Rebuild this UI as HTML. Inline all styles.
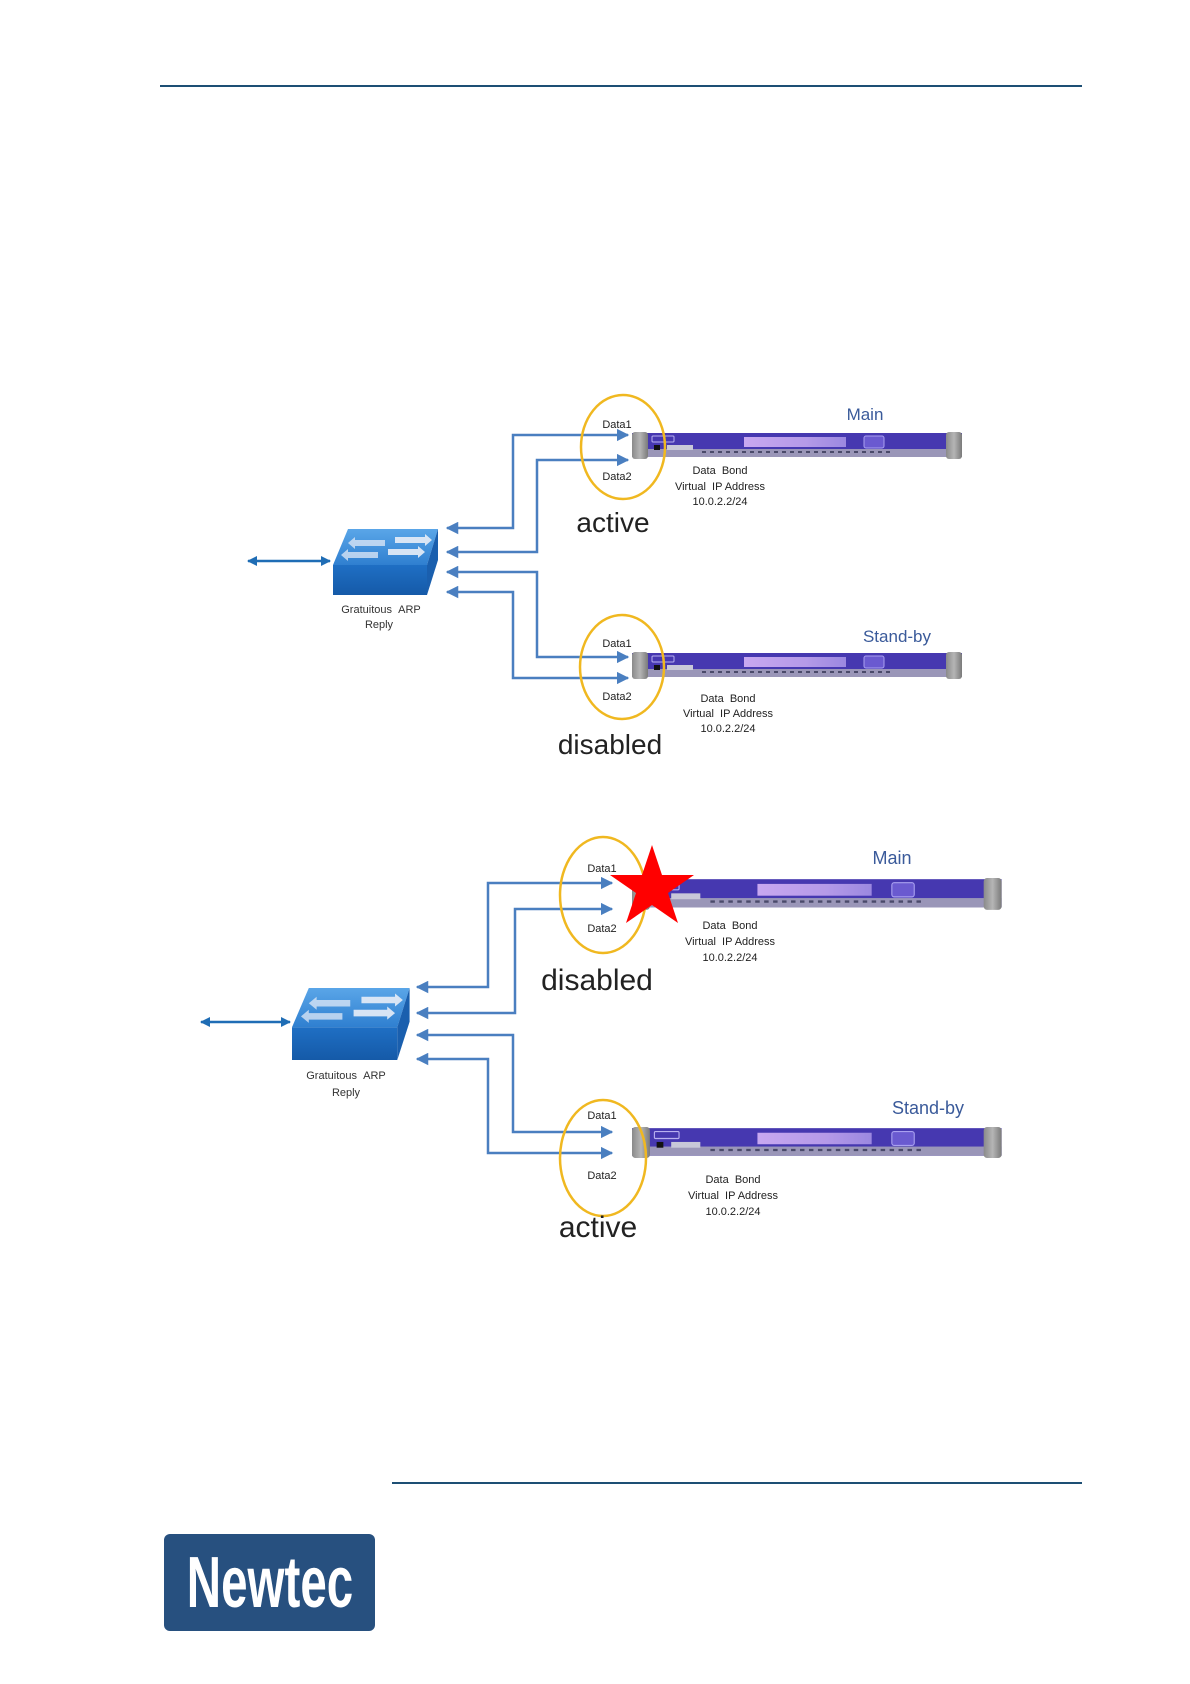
<!DOCTYPE html>
<html><head><meta charset="utf-8"><style>
html,body{margin:0;padding:0;background:#fff}
svg{display:block}
text{font-family:"Liberation Sans",sans-serif}
</style></head><body>
<svg width="1190" height="1684" viewBox="0 0 1190 1684" xmlns="http://www.w3.org/2000/svg">
<defs>
<marker id="ah" viewBox="0 0 10 10" refX="9" refY="5" markerWidth="5" markerHeight="5" orient="auto-start-reverse" markerUnits="strokeWidth">
<path d="M0,0 L10,5 L0,10 z" fill="#4a7fc0"/></marker>
<marker id="ah2" viewBox="0 0 10 10" refX="9" refY="5" markerWidth="4" markerHeight="4" orient="auto-start-reverse" markerUnits="strokeWidth">
<path d="M0,0 L10,5 L0,10 z" fill="#1f6db5"/></marker>
<linearGradient id="top" x1="0" y1="0" x2="0" y2="1"><stop offset="0" stop-color="#5aa6e8"/><stop offset="1" stop-color="#2f7fd0"/></linearGradient>
<linearGradient id="front" x1="0" y1="0" x2="0" y2="1"><stop offset="0" stop-color="#1f6fc4"/><stop offset="1" stop-color="#155aa8"/></linearGradient>
<linearGradient id="cap" x1="0" y1="0" x2="1" y2="0"><stop offset="0" stop-color="#8a8a8a"/><stop offset="0.5" stop-color="#b5b5b5"/><stop offset="1" stop-color="#7a7a7a"/></linearGradient>
<linearGradient id="disp" x1="0" y1="0" x2="1" y2="0"><stop offset="0" stop-color="#c8a8f0"/><stop offset="0.6" stop-color="#b59ae8"/><stop offset="1" stop-color="#9b88e0"/></linearGradient>
<g id="sw">
<path d="M348,529 L438,529 L427,565 L333,565 Z" fill="url(#top)"/>
<path d="M333,565 L427,565 L427,595 L333,595 Z" fill="url(#front)"/>
<path d="M438,529 L438,560 L427,595 L427,565 Z" fill="#1a5fae"/>
<g fill="#e8eef8" opacity="0.9">
<path d="M395,537 L425,537 L425,534 L432,540 L425,546 L425,543 L395,543Z"/>
<path d="M388,549 L418,549 L418,546 L425,552 L418,558 L418,555 L388,555Z"/>
<path d="M385,546 L355,546 L355,549 L348,543 L355,537 L355,540 L385,540Z" opacity="0.8"/>
<path d="M378,558 L348,558 L348,561 L341,555 L348,549 L348,552 L378,552Z" opacity="0.8"/>
</g>
</g>
<g id="dev">
<rect x="0" y="1" width="330" height="24" fill="#4638b0"/>
<rect x="0" y="17" width="330" height="8" fill="#9a96b8"/>
<g stroke="#4a4a6a" stroke-width="2" stroke-dasharray="4,4"><line x1="70" y1="20" x2="260" y2="20"/></g>
<rect x="0" y="0" width="16" height="27" rx="3" fill="url(#cap)"/>
<rect x="314" y="0" width="16" height="27" rx="3" fill="url(#cap)"/>
<rect x="20" y="4" width="22" height="6" rx="1" fill="none" stroke="#b8b0f0" stroke-width="1"/>
<rect x="22" y="13" width="6" height="5" fill="#111"/>
<rect x="35" y="13" width="26" height="5" fill="#c8c8d8"/>
<rect x="112" y="5" width="102" height="10" fill="url(#disp)"/>
<rect x="232" y="4" width="20" height="12" rx="2" fill="#6a5ad0" stroke="#a9a0f0"/>
</g>
</defs>

<line x1="160" y1="86" x2="1082" y2="86" stroke="#1d4f74" stroke-width="2"/>
<line x1="392" y1="1483" x2="1082" y2="1483" stroke="#1d4f74" stroke-width="2"/>

<!-- Diagram 1 -->
<g fill="none" stroke="#4a7fc0" stroke-width="2.5">
<path d="M447,528 L513,528 L513,435 L628,435" marker-end="url(#ah)" marker-start="url(#ah)"/>
<path d="M447,552 L537,552 L537,460 L628,460" marker-end="url(#ah)" marker-start="url(#ah)"/>
<path d="M447,572 L537,572 L537,657 L628,657" marker-end="url(#ah)" marker-start="url(#ah)"/>
<path d="M447,592 L513,592 L513,678 L628,678" marker-end="url(#ah)" marker-start="url(#ah)"/>
</g>
<line x1="248" y1="561" x2="330" y2="561" stroke="#1f6db5" stroke-width="2.5" marker-start="url(#ah2)" marker-end="url(#ah2)"/>
<use href="#sw"/>
<text x="381" y="613" font-size="11" text-anchor="middle" fill="#333">Gratuitous&#160;&#160;ARP</text>
<text x="379" y="628" font-size="11" text-anchor="middle" fill="#333">Reply</text>

<use href="#dev" transform="translate(632,432)"/>
<use href="#dev" transform="translate(632,652)"/>
<ellipse cx="623" cy="447" rx="42" ry="52" fill="none" stroke="#f0b820" stroke-width="2.5"/>
<ellipse cx="622" cy="667" rx="42" ry="52" fill="none" stroke="#f0b820" stroke-width="2.5"/>
<g font-size="11" fill="#222" text-anchor="middle">
<text x="617" y="428">Data1</text><text x="617" y="480">Data2</text>
<text x="617" y="647">Data1</text><text x="617" y="700">Data2</text>
<text x="720" y="474">Data&#160;&#160;Bond</text><text x="720" y="490">Virtual&#160;&#160;IP Address</text><text x="720" y="505">10.0.2.2/24</text>
<text x="728" y="702">Data&#160;&#160;Bond</text><text x="728" y="717">Virtual&#160;&#160;IP Address</text><text x="728" y="732">10.0.2.2/24</text>
</g>
<text x="865" y="420" font-size="17" fill="#3a5a9a" text-anchor="middle">Main</text>
<text x="897" y="642" font-size="17" fill="#3a5a9a" text-anchor="middle">Stand-by</text>
<text x="613" y="532" font-size="28" fill="#222" text-anchor="middle">active</text>
<text x="610" y="754" font-size="28" fill="#222" text-anchor="middle">disabled</text>

<!-- Diagram 2 -->
<g fill="none" stroke="#4a7fc0" stroke-width="2.5">
<path d="M417,987 L488,987 L488,883 L612,883" marker-end="url(#ah)" marker-start="url(#ah)"/>
<path d="M417,1013 L515,1013 L515,909 L612,909" marker-end="url(#ah)" marker-start="url(#ah)"/>
<path d="M417,1035 L513,1035 L513,1132 L612,1132" marker-end="url(#ah)" marker-start="url(#ah)"/>
<path d="M417,1059 L488,1059 L488,1153 L612,1153" marker-end="url(#ah)" marker-start="url(#ah)"/>
</g>
<line x1="201" y1="1022" x2="290" y2="1022" stroke="#1f6db5" stroke-width="2.5" marker-start="url(#ah2)" marker-end="url(#ah2)"/>
<use href="#sw" transform="translate(292,988) scale(1.12,1.09) translate(-333,-529)"/>
<text x="346" y="1079" font-size="11" text-anchor="middle" fill="#333">Gratuitous&#160;&#160;ARP</text>
<text x="346" y="1096" font-size="11" text-anchor="middle" fill="#333">Reply</text>

<use href="#dev" transform="translate(632,878) scale(1.12,1.18)"/>
<use href="#dev" transform="translate(632,1127) scale(1.12,1.15)"/>
<ellipse cx="603" cy="895" rx="43" ry="58" fill="none" stroke="#f0b820" stroke-width="2.5"/>
<ellipse cx="603" cy="1158" rx="43" ry="58" fill="none" stroke="#f0b820" stroke-width="2.5"/>
<g font-size="11" fill="#222" text-anchor="middle">
<text x="602" y="872">Data1</text><text x="602" y="932">Data2</text>
<text x="602" y="1119">Data1</text><text x="602" y="1179">Data2</text>
<text x="730" y="929">Data&#160;&#160;Bond</text><text x="730" y="945">Virtual&#160;&#160;IP Address</text><text x="730" y="961">10.0.2.2/24</text>
<text x="733" y="1183">Data&#160;&#160;Bond</text><text x="733" y="1199">Virtual&#160;&#160;IP Address</text><text x="733" y="1215">10.0.2.2/24</text>
</g>
<polygon points="652,842 662,872 694,872 668,890 678,920 652,902 626,920 636,890 610,872 642,872" fill="#f00" transform="translate(0,3)"/>
<text x="892" y="864" font-size="18" fill="#3a5a9a" text-anchor="middle">Main</text>
<text x="928" y="1114" font-size="18" fill="#3a5a9a" text-anchor="middle">Stand-by</text>
<text x="597" y="990" font-size="30" fill="#222" text-anchor="middle">disabled</text>
<text x="598" y="1237" font-size="30" fill="#222" text-anchor="middle">active</text>

<!-- Logo -->
<rect x="164" y="1534" width="211" height="97" rx="6" fill="#27507f"/>
<text x="0" y="0" font-size="72" font-weight="bold" fill="#fff" text-anchor="middle" transform="translate(270,1607) scale(0.66,1)">Newtec</text>
</svg>
</body></html>
